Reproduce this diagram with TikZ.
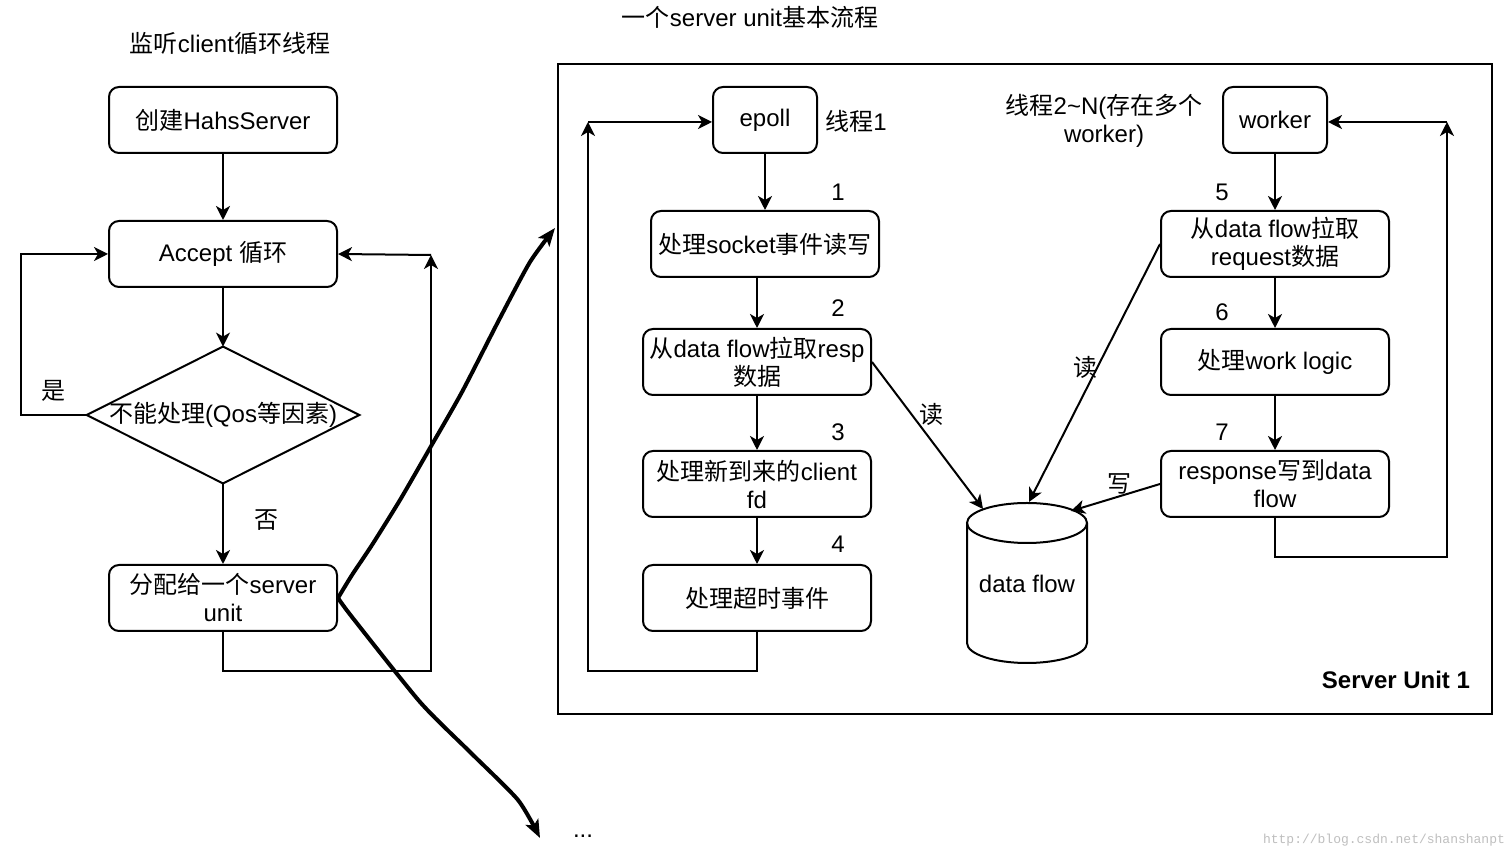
\documentclass[tikz,border=0pt]{standalone}
\usepackage{fontspec}
\setmainfont{Liberation Sans}
\newfontfamily\cjk{Noto Sans CJK SC}
\newfontfamily\wmfont{Liberation Mono}
\usetikzlibrary{arrows.meta}
\newcommand\zh[1]{{\cjk #1}}
\tikzset{
  box/.style={draw, rounded corners=5pt, line width=1pt, minimum width=114pt,
    minimum height=33pt, align=center, inner sep=1pt},
  line/.style={line width=1pt},
  arr/.style={line width=1pt, -{Stealth[length=7pt,width=7pt,inset=2pt]}},
  hand/.style={line width=2pt, line join=round, -{Stealth[length=9pt,width=7pt,inset=2pt]}},
  num/.style={inner sep=0pt}
}

\begin{document}
\begin{tikzpicture}[x=0.5pt,y=-0.5pt, nodes={font=\fontsize{12}{14}\selectfont}]
\fill[white] (0,0) rectangle (1512,860);
\useasboundingbox (0,0) rectangle (1512,860);

% titles
\node (title1) at (230,43) {\zh{监听}client\zh{循环线程}};
\node (title2) at (750,17) {\zh{一个}server unit\zh{基本流程}};

% client loop
\node[box] (create) at (223,120) {\zh{创建}HahsServer};
\node[box] (accept) at (223,254) {Accept \zh{循环}};
\node[minimum width=136pt, minimum height=68pt, inner sep=0pt] (dec) at (223,415)
  {\zh{不能处理}(Qos\zh{等因素})};
\draw[line] (dec.north) -- (dec.east) -- (dec.south) -- (dec.west) -- cycle;
\node[box] (assign) at (223,598) {\zh{分配给一个}server\\unit};
\coordinate (backR) at (431,255);

\draw[arr] (create) -- (accept);
\draw[arr] (accept) -- (dec.north);
\draw[arr] (dec.south) -- (assign) node[pos=0.45, right=12pt] (no) {\zh{否}};
\draw[arr] (dec.west) -- ++(-66,0) node[pos=0.5, above=3pt] (yes) {\zh{是}} |- (accept.west);
\draw[arr] (assign.south) -- ++(0,39) -| (backR);
\draw[arr] (backR) -- (accept.east);

% server unit
\node[draw, line width=1pt, minimum width=467pt, minimum height=325pt, anchor=north west]
  (su) at (557,63) {};
\node[font=\fontsize{12}{14}\selectfont\bfseries] (sulabel) at (1396,680) {Server Unit 1};

\node[box, minimum width=52pt] (epoll) at (765,120) {epoll};
\node (thr1) at (856,121) {\zh{线程}1};
\node[box] (socket) at (765,244) {\zh{处理}socket\zh{事件读写}};
\node[box] (resp) at (757,362) {\zh{从}data flow\zh{拉取}resp\\\zh{数据}};
\node[box] (newfd) at (757,484) {\zh{处理新到来的}client\\fd};
\node[box] (timeout) at (757,598) {\zh{处理超时事件}};
\node[num] (n1) at (838,192) {1};
\node[num] (n2) at (838,308) {2};
\node[num] (n3) at (838,432) {3};
\node[num] (n4) at (838,544) {4};
\coordinate (backE) at (588,122);

\draw[arr] (epoll) -- (socket);
\draw[arr] (socket.south -| resp.north) -- (resp.north);
\draw[arr] (resp) -- (newfd);
\draw[arr] (newfd) -- (timeout);
\draw[arr] (timeout.south) -- ++(0,39) -| (backE);
\draw[arr] (backE) -- (backE -| epoll.west);

\node[box, minimum width=52pt] (worker) at (1275,120) {worker};
\node[align=center] (thr2) at (1104,121) {\zh{线程}2\textasciitilde N(\zh{存在多个}\\worker)};
\node[box] (request) at (1275,244) {\zh{从}data flow\zh{拉取}\\request\zh{数据}};
\node[box] (logic) at (1275,362) {\zh{处理}work logic};
\node[box] (response) at (1275,484) {response\zh{写到}data\\flow};
\node[num] (n5) at (1222,192) {5};
\node[num] (n6) at (1222,312) {6};
\node[num] (n7) at (1222,432) {7};
\coordinate (backW) at (1447,122);

\draw[arr] (worker) -- (request);
\draw[arr] (request) -- (logic);
\draw[arr] (logic) -- (response);
\draw[arr] (response.south) -- ++(0,39) -| (backW);
\draw[arr] (backW) -- (backW -| worker.east);

% data flow cylinder
\node (flow) at (1027,584) {data flow};
\draw[line] (967,523) -- (967,643) arc[start angle=180, end angle=360, x radius=30pt, y radius=10pt]
  -- (1087,523);
\draw[line] (1027,523) ellipse[x radius=30pt, y radius=10pt];
\coordinate (flowL) at (983,509);
\coordinate (flowT) at (1029,502);
\coordinate (flowR) at (1071,511);

\draw[arr] (resp.east) -- (flowL) node[pos=0.36, right=0pt] (rd1) {\zh{读}};
\draw[arr] (request.west) -- (flowT) node[pos=0.48, xshift=-6pt] (rd2) {\zh{读}};
\draw[arr] (response.west) -- (flowR) node[pos=0.45, yshift=6pt] (wr) {\zh{写}};

% hand drawn dispatch arrows
\coordinate (suin) at (555,228);
\coordinate (more) at (540,838);
\draw[hand] plot[smooth, tension=0.4] coordinates {(assign.east) (352,575) (372,545)
  (400,500) (430,448) (462,392) (500,318) (530,262) (555,228)};
\draw[hand] plot[smooth, tension=0.4] coordinates {(assign.east) (352,617) (420,702)
  (470,752) (518,800) (540,838)};
\node (dots) at (583,836) {...};

\node[font=\wmfont\fontsize{6.5}{8}\selectfont, text=black!25] (wm) at (1384,840)
  {http://blog.csdn.net/shanshanpt};
\end{tikzpicture}
\end{document}
